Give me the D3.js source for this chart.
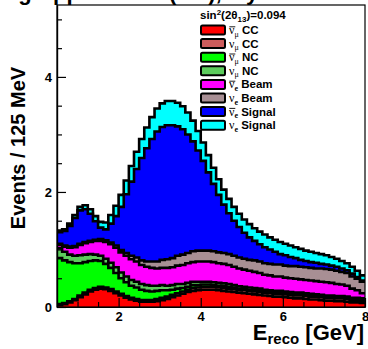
<!DOCTYPE html>
<html><head><meta charset="utf-8">
<script src="https://cdn.jsdelivr.net/npm/d3@7"></script>
<style>
html,body{margin:0;padding:0;background:#fff;}
svg{display:block;}
text{font-family:"Liberation Sans",Arial,sans-serif;font-weight:bold;}
</style></head>
<body>
<div id="chart"></div>
<script>
// Bin low edges (GeV), 125 MeV bins from 0.5 to 8
const binLow = [0.5,0.625,0.75,0.875,1.0,1.125,1.25,1.375,1.5,1.625,1.75,1.875,2.0,2.125,2.25,2.375,2.5,2.625,2.75,2.875,3.0,3.125,3.25,3.375,3.5,3.625,3.75,3.875,4.0,4.125,4.25,4.375,4.5,4.625,4.75,4.875,5.0,5.125,5.25,5.375,5.5,5.625,5.75,5.875,6.0,6.125,6.25,6.375,6.5,6.625,6.75,6.875,7.0,7.125,7.25,7.375,7.5,7.625,7.75,7.875];
const binWidth = 0.125;

// Series (events / 125 MeV), bottom of stack first
const numuBarCC = [0.03,0.05,0.08,0.12,0.17,0.22,0.27,0.30,0.32,0.31,0.28,0.24,0.20,0.16,0.13,0.11,0.09,0.09,0.09,0.10,0.12,0.14,0.17,0.20,0.23,0.26,0.28,0.29,0.30,0.30,0.30,0.29,0.28,0.27,0.26,0.25,0.24,0.23,0.22,0.21,0.20,0.19,0.18,0.18,0.17,0.16,0.15,0.15,0.14,0.13,0.13,0.12,0.11,0.11,0.10,0.10,0.09,0.08,0.08,0.07];
const numuCC = [0.02,0.02,0.02,0.02,0.03,0.03,0.03,0.03,0.03,0.03,0.03,0.03,0.03,0.03,0.03,0.03,0.03,0.03,0.03,0.04,0.04,0.04,0.04,0.04,0.04,0.04,0.05,0.05,0.05,0.05,0.05,0.05,0.05,0.05,0.05,0.05,0.05,0.05,0.05,0.05,0.05,0.05,0.05,0.05,0.05,0.05,0.05,0.05,0.05,0.05,0.05,0.05,0.05,0.05,0.05,0.05,0.05,0.04,0.04,0.04];
const numuBarNC = [0.80,0.74,0.68,0.62,0.56,0.53,0.50,0.48,0.45,0.41,0.37,0.32,0.27,0.24,0.21,0.20,0.18,0.16,0.15,0.14,0.13,0.11,0.09,0.08,0.06,0.05,0.05,0.04,0.04,0.04,0.03,0.03,0.03,0.03,0.03,0.02,0.02,0.02,0.02,0.02,0.02,0.02,0.02,0.02,0.02,0.02,0.02,0.02,0.02,0.02,0.02,0.02,0.02,0.02,0.02,0.02,0.02,0.02,0.02,0.02];
const numuNC = [0.17,0.15,0.13,0.13,0.14,0.13,0.12,0.10,0.09,0.09,0.09,0.10,0.10,0.10,0.10,0.10,0.10,0.10,0.10,0.09,0.09,0.08,0.08,0.08,0.07,0.07,0.06,0.06,0.05,0.05,0.05,0.05,0.05,0.05,0.04,0.04,0.04,0.04,0.04,0.04,0.03,0.03,0.03,0.03,0.03,0.03,0.03,0.03,0.03,0.03,0.02,0.02,0.02,0.02,0.02,0.02,0.02,0.02,0.02,0.02];
const nueBarBeam = [0.06,0.09,0.12,0.15,0.18,0.20,0.21,0.24,0.26,0.29,0.32,0.34,0.35,0.36,0.36,0.35,0.33,0.32,0.31,0.30,0.30,0.31,0.31,0.32,0.33,0.34,0.34,0.35,0.35,0.35,0.35,0.34,0.34,0.33,0.32,0.31,0.30,0.29,0.28,0.27,0.26,0.26,0.25,0.25,0.24,0.24,0.24,0.23,0.23,0.23,0.23,0.23,0.23,0.22,0.21,0.20,0.19,0.16,0.13,0.09];
const nueBeam = [0.02,0.02,0.02,0.02,0.02,0.02,0.02,0.02,0.03,0.03,0.03,0.04,0.04,0.05,0.06,0.07,0.08,0.09,0.11,0.12,0.14,0.15,0.16,0.17,0.18,0.18,0.19,0.19,0.19,0.19,0.19,0.19,0.19,0.19,0.19,0.19,0.19,0.19,0.20,0.20,0.20,0.20,0.21,0.21,0.21,0.21,0.22,0.22,0.22,0.22,0.22,0.23,0.23,0.23,0.23,0.22,0.22,0.21,0.20,0.20];
const nueBarSignal = [0.20,0.25,0.36,0.49,0.58,0.57,0.47,0.32,0.20,0.19,0.33,0.51,0.75,1.02,1.29,1.54,1.78,1.97,2.13,2.26,2.31,2.33,2.31,2.25,2.18,2.06,1.91,1.74,1.56,1.36,1.17,1.00,0.84,0.71,0.61,0.53,0.45,0.39,0.34,0.30,0.28,0.25,0.22,0.18,0.18,0.16,0.14,0.12,0.11,0.10,0.10,0.08,0.08,0.07,0.07,0.06,0.05,0.05,0.03,0.02];
const nueSignal = [0.03,0.03,0.04,0.05,0.06,0.07,0.08,0.09,0.10,0.12,0.15,0.18,0.21,0.24,0.27,0.30,0.33,0.36,0.38,0.40,0.41,0.42,0.42,0.41,0.40,0.38,0.36,0.34,0.32,0.30,0.28,0.27,0.26,0.25,0.24,0.23,0.23,0.23,0.22,0.22,0.22,0.21,0.21,0.21,0.20,0.20,0.19,0.19,0.18,0.18,0.17,0.17,0.16,0.15,0.14,0.13,0.12,0.12,0.11,0.09];

const seriesNames = ["numuBarCC","numuCC","numuBarNC","numuNC","nueBarBeam","nueBeam","nueBarSignal","nueSignal"];
const seriesValues = [numuBarCC,numuCC,numuBarNC,numuNC,nueBarBeam,nueBeam,nueBarSignal,nueSignal];
const seriesColors = ["#ff0000","#cd5c5c","#00ff00","#5ccc5c","#ff00ff","#a88f94","#0000ff","#00ffff"];
const legendOrder = [0,1,2,3,4,5,6,7];
const legendLabels = [
  {bar:true, sub:"\u03bc", txt:" CC"},
  {bar:false,sub:"\u03bc", txt:" CC"},
  {bar:true, sub:"\u03bc", txt:" NC"},
  {bar:false,sub:"\u03bc", txt:" NC"},
  {bar:true, sub:"e", txt:" Beam"},
  {bar:false,sub:"e", txt:" Beam"},
  {bar:true, sub:"e", txt:" Signal"},
  {bar:false,sub:"e", txt:" Signal"}
];
const yMajorTicks = [0,2,4];
const xMajorTicks = [2,4,6,8];

const W = 368, H = 349;
const L = 57, R = 365, T = 5, B = 307;

const svg = d3.select("#chart").append("svg").attr("width",W).attr("height",H);

const x = d3.scaleLinear().domain([0.5, 8]).range([L, R]);
const y = d3.scaleLinear().domain([0, 5.25]).range([B, T]);

const rows = binLow.map((b,i)=>{
  const r = {x:b};
  seriesNames.forEach((n,k)=> r[n] = seriesValues[k][i]);
  return r;
});
const last = Object.assign({}, rows[rows.length-1], {x: binLow[binLow.length-1]+binWidth});
const rowsExt = rows.concat([last]);

const layers = d3.stack().keys(seriesNames)(rowsExt);

svg.append("defs").append("clipPath").attr("id","clip")
  .append("rect").attr("x",L).attr("y",T).attr("width",R-L).attr("height",B-T);

const g = svg.append("g").attr("clip-path","url(#clip)");

const area = d3.area().curve(d3.curveStepAfter)
  .x(d=>x(d.data.x)).y0(y(0)).y1(d=>y(d[1]));
const line = d3.line().curve(d3.curveStepAfter)
  .x(d=>x(d.data.x)).y(d=>y(d[1]));

for (let k = layers.length-1; k >= 0; k--) {
  g.append("path").attr("d", area(layers[k])).attr("fill", seriesColors[k]).attr("stroke","none");
  g.append("path").attr("d", line(layers[k])).attr("fill","none")
    .attr("stroke","#000").attr("stroke-width",2.6).attr("stroke-linejoin","miter");
}

svg.append("rect").attr("x",L).attr("y",T).attr("width",R-L).attr("height",B-T)
  .attr("fill","none").attr("stroke","#000").attr("stroke-width",1.2);

const xMinor = d3.range(1, 8, 0.5).filter(v=>xMajorTicks.indexOf(v)<0);
const yMinor = d3.range(0.5, 5.25, 0.5).filter(v=>yMajorTicks.indexOf(v)<0);

const xa = svg.append("g").attr("transform",`translate(0,${B})`)
  .call(d3.axisBottom(x).tickValues(xMajorTicks).tickSizeInner(-9).tickSizeOuter(0).tickPadding(5).tickFormat(d3.format("d")));
const xm = svg.append("g").attr("transform",`translate(0,${B})`)
  .call(d3.axisBottom(x).tickValues(xMinor).tickSizeInner(-5).tickSizeOuter(0).tickFormat(""));
const ya = svg.append("g").attr("transform",`translate(${L},0)`)
  .call(d3.axisLeft(y).tickValues(yMajorTicks).tickSizeInner(-9).tickSizeOuter(0).tickPadding(5).tickFormat(d3.format("d")));
const ym = svg.append("g").attr("transform",`translate(${L},0)`)
  .call(d3.axisLeft(y).tickValues(yMinor).tickSizeInner(-5).tickSizeOuter(0).tickFormat(""));
[xa,xm,ya,ym].forEach(a=>{
  a.select(".domain").attr("stroke","#000").attr("stroke-width",1.2);
  a.selectAll(".tick line").attr("stroke","#000").attr("stroke-width",1.2);
  a.selectAll(".tick text").attr("fill","#000").style("font-size","13px")
    .style("font-family","'Liberation Sans',Arial,sans-serif").style("font-weight","bold");
});

const xt = svg.append("text").attr("x",364).attr("y",340).attr("text-anchor","end")
  .style("font-size","22px");
xt.append("tspan").text("E");
xt.append("tspan").attr("dy",4).style("font-size","15px").text("reco");
xt.append("tspan").attr("dy",-4).text(" [GeV]");

svg.append("text").attr("transform","translate(25,148) rotate(-90)")
  .attr("text-anchor","middle").style("font-size","20px").text("Events / 125 MeV");

// top title (mostly cut off in the picture, as in the reference)
svg.append("text").attr("x",-22).attr("y",0).style("font-size","22px")
  .text("Long Appearance (NH), 5 years");

// legend
const lg = svg.append("g");
const hdr = lg.append("text").attr("x",200).attr("y",19).style("font-size","11.5px");
hdr.append("tspan").text("sin");
hdr.append("tspan").attr("dy",-4).style("font-size","8px").text("2");
hdr.append("tspan").attr("dy",4).text("(2\u03b8");
hdr.append("tspan").attr("dy",3).style("font-size","8px").text("13");
hdr.append("tspan").attr("dy",-3).text(")=0.094");

legendOrder.forEach((k,j)=>{
  const cy = 30 + j*13.6;
  lg.append("rect").attr("x",201).attr("y",cy-4.5).attr("width",24).attr("height",9)
    .attr("rx",1.5).attr("fill",seriesColors[k]).attr("stroke","#000").attr("stroke-width",2);
  const lab = legendLabels[k];
  const t = lg.append("text").attr("x",229).attr("y",cy+4).style("font-size","11.5px");
  t.append("tspan").style("font-family","'Liberation Serif','Times New Roman',serif")
    .style("font-weight","normal").style("font-size","12px").text("\u03bd");
  t.append("tspan").attr("dy",2.5).style("font-family","'Liberation Serif','Times New Roman',serif")
    .style("font-weight", lab.sub==="e" ? "bold":"normal").style("font-size","8px").text(lab.sub);
  t.append("tspan").attr("dy",-2.5).text(lab.txt);
  if (lab.bar) {
    lg.append("line").attr("x1",229.3).attr("x2",235.3).attr("y1",cy-3.2).attr("y2",cy-3.2)
      .attr("stroke","#000").attr("stroke-width",0.9);
  }
});
</script>
</body></html>
